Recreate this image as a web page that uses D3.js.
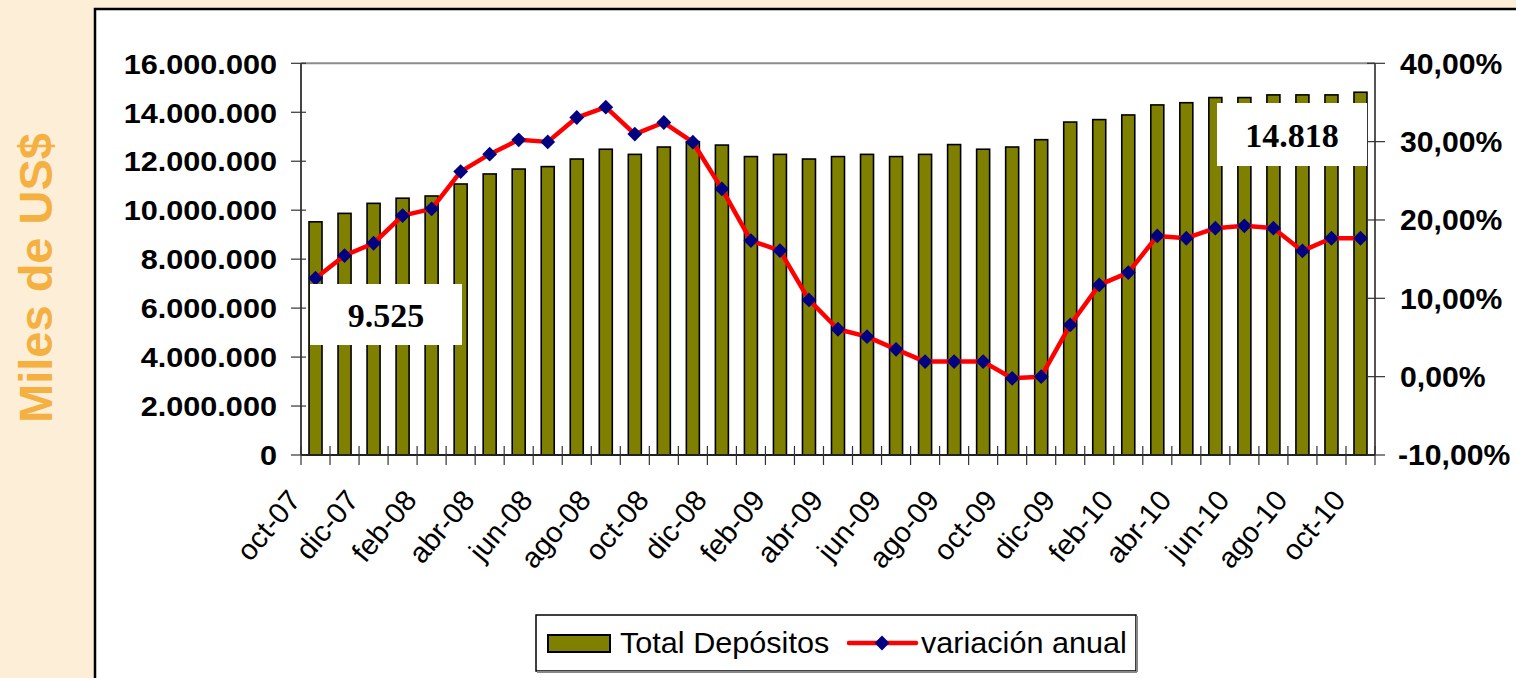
<!DOCTYPE html>
<html>
<head>
<meta charset="utf-8">
<script src="https://cdn.jsdelivr.net/npm/d3@7"></script>
<style>
  html, body { margin: 0; padding: 0; background: #FDEED7; }
  svg { display: block; }
</style>
</head>
<body>
<svg id="chart" width="1516" height="678"></svg>
<script>
// ---- data ----
const months = ["oct-07","nov-07","dic-07","ene-08","feb-08","mar-08","abr-08","may-08","jun-08","jul-08","ago-08","sep-08",
  "oct-08","nov-08","dic-08","ene-09","feb-09","mar-09","abr-09","may-09","jun-09","jul-09","ago-09","sep-09",
  "oct-09","nov-09","dic-09","ene-10","feb-10","mar-10","abr-10","may-10","jun-10","jul-10","ago-10","sep-10","oct-10"];
const totalDepositos = [9525000, 9870000, 10280000, 10490000, 10580000, 11070000, 11480000, 11680000, 11780000, 12090000,
  12490000, 12280000, 12580000, 12800000, 12660000, 12190000, 12280000, 12090000, 12190000, 12280000,
  12190000, 12280000, 12680000, 12490000, 12580000, 12880000, 13600000, 13700000, 13890000, 14300000,
  14390000, 14600000, 14600000, 14710000, 14710000, 14710000, 14818000];
const variacionAnual = [12.56, 15.46, 17.03, 20.56, 21.42, 26.18, 28.40, 30.23, 29.97, 33.08,
  34.40, 30.96, 32.44, 29.93, 23.97, 17.37, 16.09, 9.80, 6.05, 5.11,
  3.49, 1.92, 1.92, 1.92, -0.21, 0.0, 6.6, 11.71, 13.28, 17.97,
  17.67, 18.95, 19.25, 18.95, 16.05, 17.67, 17.67];
const leftTicks = [0, 2000000, 4000000, 6000000, 8000000, 10000000, 12000000, 14000000, 16000000];
const rightTicks = [-10, 0, 10, 20, 30, 40];
const shownLabels = ["oct-07","dic-07","feb-08","abr-08","jun-08","ago-08","oct-08","dic-08","feb-09","abr-09",
  "jun-09","ago-09","oct-09","dic-09","feb-10","abr-10","jun-10","ago-10","oct-10"];
const firstLabel = "9.525";
const lastLabel = "14.818";
const seriesNames = ["Total Depósitos", "variación anual"];
const yTitle = "Miles de US$";

// ---- layout ----
const svg = d3.select("#chart");
const P = { left: 301, right: 1375, top: 63.3, bottom: 455 };

// outer white frame
svg.append("rect").attr("x", 95).attr("y", 9).attr("width", 1440).attr("height", 700)
  .attr("fill", "#fff").attr("stroke", "#000").attr("stroke-width", 2.5);

// y title
svg.append("text")
  .attr("transform", "translate(52,278) rotate(-90)")
  .attr("text-anchor", "middle")
  .attr("font-family", "Liberation Sans, Arial, sans-serif")
  .attr("font-weight", "bold").attr("font-size", 47)
  .attr("fill", "#F4B041")
  .text(yTitle);

const x = d3.scaleBand().domain(months).range([P.left, P.right]).paddingInner(0).paddingOuter(0);
const y = d3.scaleLinear().domain([0, 16000000]).range([P.bottom, P.top]);
const y2 = d3.scaleLinear().domain([-10, 40]).range([P.bottom, P.top]);
const loc = d3.formatLocale({ decimal: ",", thousands: ".", grouping: [3], currency: ["$", ""], minus: "-" });
const fmtThousands = loc.format(",.0f");
const fmtPct = v => loc.format(".2f")(v) + "%";

// plot area top line (gray)
svg.append("line").attr("x1", P.left).attr("x2", P.right).attr("y1", P.top).attr("y2", P.top)
  .attr("stroke", "#8c8c8c").attr("stroke-width", 2);

// bars
const bw = 13;
svg.append("g").selectAll("rect").data(totalDepositos).join("rect")
  .attr("x", (d, i) => x(months[i]) + x.bandwidth() / 2 - bw / 2)
  .attr("y", d => y(d))
  .attr("width", bw)
  .attr("height", d => y(0) - y(d))
  .attr("fill", "#808000").attr("stroke", "#000").attr("stroke-width", 1.6);

// axes lines
svg.append("line").attr("x1", P.left).attr("x2", P.left).attr("y1", P.top).attr("y2", P.bottom)
  .attr("stroke", "#444").attr("stroke-width", 2);
svg.append("line").attr("x1", P.right).attr("x2", P.right).attr("y1", P.top).attr("y2", P.bottom)
  .attr("stroke", "#555").attr("stroke-width", 2);
svg.append("line").attr("x1", P.left).attr("x2", P.right).attr("y1", P.bottom).attr("y2", P.bottom)
  .attr("stroke", "#222").attr("stroke-width", 2);

// stretch text horizontally by factor (keeps anchor)
function stretch(sel, k) {
  sel.each(function () {
    const len = this.getComputedTextLength();
    d3.select(this).attr("textLength", len * k).attr("lengthAdjust", "spacingAndGlyphs");
  });
}

// left ticks + labels
const gl = svg.append("g");
gl.selectAll("line").data(leftTicks).join("line")
  .attr("x1", P.left - 10).attr("x2", P.left + 5)
  .attr("y1", d => y(d)).attr("y2", d => y(d))
  .attr("stroke", "#333").attr("stroke-width", 1.2);
gl.selectAll("text").data(leftTicks).join("text")
  .attr("x", 277).attr("y", d => y(d)).attr("dy", "0.36em")
  .attr("text-anchor", "end")
  .attr("font-family", "Liberation Sans, Arial, sans-serif").attr("font-weight", "bold").attr("font-size", 28.5)
  .attr("fill", "#000")
  .text(d => fmtThousands(d))
  .call(stretch, 1.075);

// right ticks + labels
const gr = svg.append("g");
gr.selectAll("line").data(rightTicks).join("line")
  .attr("x1", P.right - 8).attr("x2", P.right + 10)
  .attr("y1", d => y2(d)).attr("y2", d => y2(d))
  .attr("stroke", "#333").attr("stroke-width", 1.2);
gr.selectAll("text").data(rightTicks).join("text")
  .attr("x", d => d < 0 ? 1398 : 1400).attr("y", d => y2(d)).attr("dy", "0.36em")
  .attr("text-anchor", "start")
  .attr("font-family", "Liberation Sans, Arial, sans-serif").attr("font-weight", "bold").attr("font-size", 29)
  .attr("fill", "#000")
  .text(d => fmtPct(d))
  .call(stretch, 1.04);

// x ticks at band boundaries
const bounds = months.map(m => x(m)).concat([P.right]);
svg.append("g").selectAll("line").data(bounds).join("line")
  .attr("x1", d => d).attr("x2", d => d)
  .attr("y1", P.bottom - 9).attr("y2", P.bottom + 10)
  .attr("stroke", "#333").attr("stroke-width", 1.2);

// x labels
svg.append("g").selectAll("text").data(shownLabels).join("text")
  .attr("transform", d => `translate(${x(d) + x.bandwidth() / 2 - 13.5},${P.bottom + 46}) rotate(-50)`)
  .attr("text-anchor", "end")
  .attr("font-family", "Liberation Sans, Arial, sans-serif").attr("font-size", 29)
  .attr("fill", "#000")
  .text(d => d);

// line series
const line = d3.line().x((d, i) => x(months[i]) + x.bandwidth() / 2).y(d => y2(d));
svg.append("path").datum(variacionAnual).attr("d", line)
  .attr("fill", "none").attr("stroke", "#FF0000").attr("stroke-width", 4.5).attr("stroke-linejoin", "round");
const diamond = d3.symbol().type(d3.symbolDiamond2).size(140);
svg.append("g").selectAll("path").data(variacionAnual).join("path")
  .attr("transform", (d, i) => `translate(${x(months[i]) + x.bandwidth() / 2},${y2(d)})`)
  .attr("d", diamond)
  .attr("fill", "#000080");

// value annotation boxes
function valueBox(bx, by, bwid, bh, txt) {
  svg.append("rect").attr("x", bx).attr("y", by).attr("width", bwid).attr("height", bh).attr("fill", "#fff");
  svg.append("text").attr("x", bx + bwid / 2).attr("y", by + bh / 2).attr("dy", "0.36em")
    .attr("text-anchor", "middle")
    .attr("font-family", "Liberation Serif, Times New Roman, serif").attr("font-weight", "bold").attr("font-size", 34)
    .attr("fill", "#000").text(txt);
}
valueBox(310, 284, 152, 61, firstLabel);
valueBox(1217, 103, 150, 63, lastLabel);

// legend
const lg = svg.append("g");
lg.append("rect").attr("x", 536).attr("y", 615).attr("width", 600).attr("height", 56)
  .attr("fill", "#fff").attr("stroke", "#000").attr("stroke-width", 1.5);
lg.append("line").attr("x1", 537).attr("x2", 1137).attr("y1", 672).attr("y2", 672).attr("stroke", "#888").attr("stroke-width", 2);
lg.append("line").attr("x1", 1137).attr("x2", 1137).attr("y1", 616).attr("y2", 672).attr("stroke", "#888").attr("stroke-width", 2);
lg.append("rect").attr("x", 548).attr("y", 635).attr("width", 62).attr("height", 17)
  .attr("fill", "#808000").attr("stroke", "#000").attr("stroke-width", 2);
lg.append("text").attr("x", 620).attr("y", 653)
  .attr("font-family", "Liberation Sans, Arial, sans-serif").attr("font-size", 30).attr("fill", "#000")
  .text(seriesNames[0]).call(stretch, 1.02);
lg.append("line").attr("x1", 849).attr("x2", 916).attr("y1", 643).attr("y2", 643)
  .attr("stroke", "#FF0000").attr("stroke-width", 4.5).attr("stroke-linecap", "round");
lg.append("path").attr("transform", "translate(882,643)").attr("d", diamond).attr("fill", "#000080");
lg.append("text").attr("x", 921).attr("y", 653)
  .attr("font-family", "Liberation Sans, Arial, sans-serif").attr("font-size", 30).attr("fill", "#000")
  .text(seriesNames[1]).call(stretch, 1.02);
</script>
</body>
</html>
